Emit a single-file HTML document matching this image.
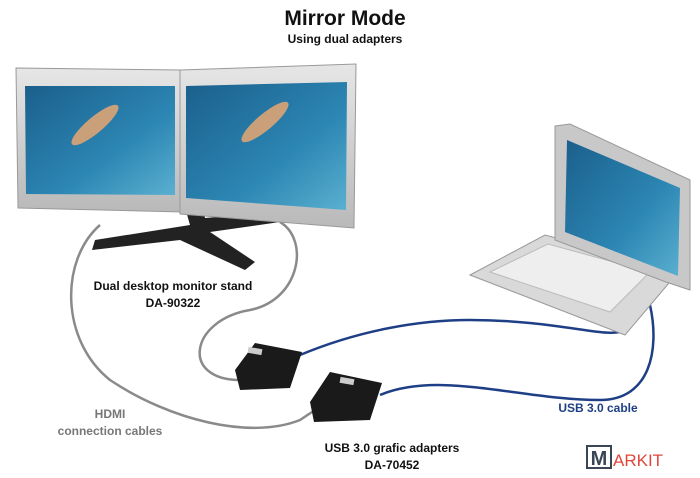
<!DOCTYPE html>
<html><head><meta charset="utf-8"><style>
html,body{margin:0;padding:0;background:#fff;}
svg{display:block;}
text{font-family:"Liberation Sans",sans-serif;font-weight:bold;}
</style></head><body>
<svg width="700" height="478" viewBox="0 0 700 478" xmlns="http://www.w3.org/2000/svg">
<defs>
<linearGradient id="water" x1="0" y1="0" x2="1" y2="1">
<stop offset="0" stop-color="#1b5f8c"/><stop offset="0.6" stop-color="#2c86b3"/><stop offset="1" stop-color="#5ab0d0"/>
</linearGradient>
<linearGradient id="bez" x1="0" y1="0" x2="0" y2="1">
<stop offset="0" stop-color="#e6e6e6"/><stop offset="1" stop-color="#b9b9b9"/>
</linearGradient>
</defs>
<text x="345" y="25" font-size="21" text-anchor="middle" fill="#111">Mirror Mode</text>
<text x="345" y="43" font-size="12" text-anchor="middle" fill="#111">Using dual adapters</text>

<!-- cables gray -->
<g fill="none" stroke="#8a8a8a" stroke-width="2.5">
<path d="M100 225 C60 260 60 340 110 380 C170 420 250 440 300 420 L315 410"/>
<path d="M280 222 C310 240 300 300 250 310 C190 320 180 380 240 380"/>
</g>
<!-- cables blue -->
<g fill="none" stroke="#1e3f85" stroke-width="2.5">
<path d="M300 355 C360 330 420 320 470 320 C560 320 610 340 625 330"/>
<path d="M380 395 C440 370 520 400 600 400 C650 400 660 350 650 305"/>
</g>

<!-- stand -->
<path d="M180 190 L190 225 L95 240 L92 250 L180 240 L245 270 L255 262 L210 232 L280 222 L275 212 L205 218 L200 190 Z" fill="#222"/>
<!-- left monitor -->
<polygon points="16,68 182,70 182,212 18,208" fill="url(#bez)" stroke="#999"/>
<polygon points="25,86 175,86 175,195 26,194" fill="url(#water)"/>
<!-- right monitor -->
<polygon points="180,70 356,64 354,228 180,214" fill="url(#bez)" stroke="#999"/>
<polygon points="186,86 347,82 346,210 186,198" fill="url(#water)"/>
<!-- swimmers -->
<g fill="#caa07a"><ellipse cx="95" cy="125" rx="30" ry="8" transform="rotate(-40 95 125)"/><ellipse cx="265" cy="122" rx="30" ry="8" transform="rotate(-40 265 122)"/><ellipse cx="620" cy="190" rx="22" ry="6" transform="rotate(-40 620 190)"/></g>

<!-- laptop -->
<polygon points="470,275 545,235 680,270 625,335" fill="#d9d9d9" stroke="#999"/>
<polygon points="490,272 548,244 650,272 610,312" fill="#eee" stroke="#bbb"/>
<polygon points="555,126 570,124 690,180 690,290 666,282 555,240" fill="#c8c8c8" stroke="#999"/>
<polygon points="567,140 680,188 678,276 565,232" fill="url(#water)"/>

<!-- adapters -->
<polygon points="235,370 255,343 302,352 290,388 240,390" fill="#1a1a1a"/>
<rect x="248" y="348" width="14" height="6" fill="#ccc" transform="rotate(10 255 351)"/>
<polygon points="310,402 330,372 382,383 370,420 314,422" fill="#1a1a1a"/>
<rect x="340" y="378" width="14" height="6" fill="#ccc" transform="rotate(10 347 381)"/>

<text x="173" y="290" font-size="12" text-anchor="middle" fill="#111">Dual desktop monitor stand</text>
<text x="173" y="307" font-size="12" text-anchor="middle" fill="#111">DA-90322</text>
<text x="110" y="418" font-size="12" text-anchor="middle" fill="#777">HDMI</text>
<text x="110" y="435" font-size="12" text-anchor="middle" fill="#777">connection cables</text>
<text x="598" y="412" font-size="12" text-anchor="middle" fill="#1e3f85">USB 3.0 cable</text>
<text x="392" y="452" font-size="12" text-anchor="middle" fill="#111">USB 3.0 grafic adapters</text>
<text x="392" y="469" font-size="12" text-anchor="middle" fill="#111">DA-70452</text>

<rect x="587" y="446" width="24" height="22" fill="none" stroke="#3a4656" stroke-width="2"/>
<text x="599" y="465" font-size="20" text-anchor="middle" fill="#3a4656">M</text>
<text x="613" y="466" font-size="17" font-weight="normal" fill="#e0463c" style="font-weight:normal">ARKIT</text>
</svg>
</body></html>
